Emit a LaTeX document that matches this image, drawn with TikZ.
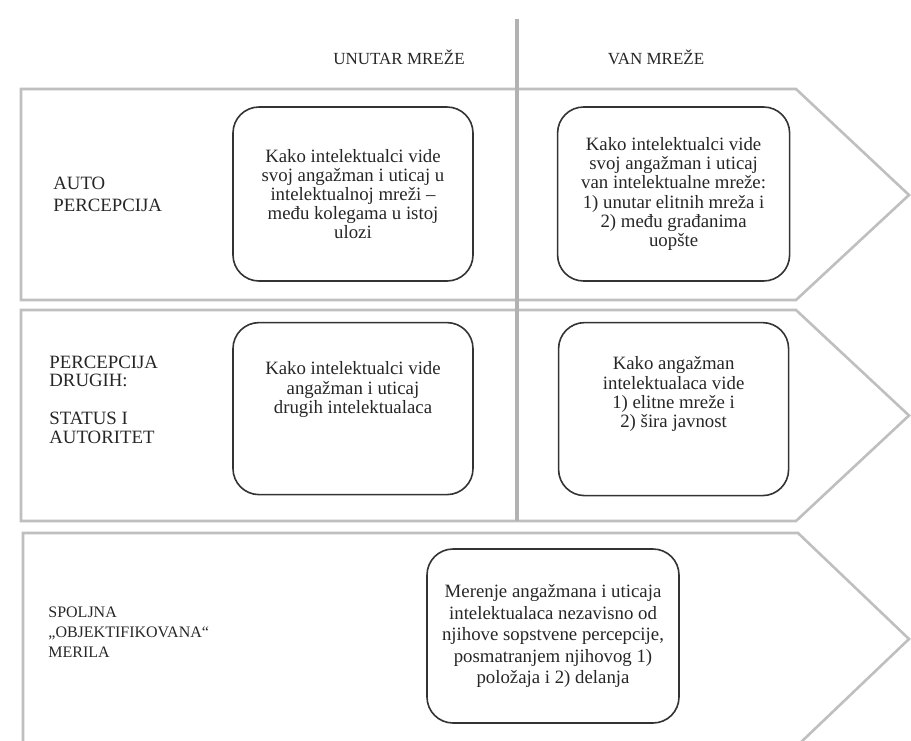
\documentclass[tikz,border=0pt]{standalone}
\usepackage{fontspec}
\setmainfont{Liberation Serif}
\usetikzlibrary{positioning}
\newcommand{\cellfont}{\fontsize{9.4pt}{9.6pt}\selectfont}
\tikzset{
        base/.style={align=center, inner sep=0pt, text=black!85},
        box/.style={base, draw=black!80, line width=0.8pt, rounded corners=13pt,
                    font=\cellfont},
        rowlabel/.style={align=left, anchor=west, inner sep=0pt, text=black!85},
        colhead/.style={base, font=\fontsize{8.5pt}{9pt}\selectfont},
        band/.style={draw=gray!50, line width=1.3pt, line join=miter},
        divider/.style={draw=gray!60, line width=1.8pt},
 }
\begin{document}
\begin{tikzpicture}[x=0.5pt, y=-0.5pt]
    \useasboundingbox (0,0) rectangle (911,740);
    \clip (0,0) rectangle (911,740);

    % the three arrow bands
    \draw[band] (21,89) -- (796,89) -- (909,195) -- (796,300) -- (21,300) -- cycle;
    \draw[band] (21,310) -- (796,310) -- (909,415.5) -- (796,521) -- (21,521) -- cycle;
    \draw[band] (23,533) -- (798,533) -- (909,639) -- (798,745) -- (23,745) -- cycle;

    \coordinate (divtop) at (517,19);
    \coordinate (divbot) at (517,521);
    \draw[divider] (divtop) -- (divbot);

    \node[colhead] (unutar) at (399,57) {UNUTAR MREŽE};
    \node[colhead] (van) at (656,57) {VAN MREŽE};

    \node[rowlabel, font=\fontsize{9.4pt}{11pt}\selectfont] (auto) at (53,194)
        {AUTO\\PERCEPCIJA};
    \node[rowlabel, font=\fontsize{9.4pt}{9.4pt}\selectfont] (drugi) at (49,399.5)
        {PERCEPCIJA\\DRUGIH:\\[9.4pt]STATUS I\\AUTORITET};
    \node[rowlabel, font=\fontsize{8pt}{10pt}\selectfont] (merila) at (48,632)
        {SPOLJNA\\„OBJEKTIFIKOVANA“\\MERILA};

    \node[box, minimum width=120pt, minimum height=87pt] (autoin) at (353,194)
        {Kako intelektualci vide\\svoj angažman i uticaj u\\intelektualnoj mreži --\\među kolegama u istoj\\ulozi};
    \node[box, minimum width=116pt, minimum height=87pt, right=41.5pt of autoin] (autoout)
        {Kako intelektualci vide\\svoj angažman i uticaj\\van intelektualne mreže:\\1) unutar elitnih mreža i\\2) među građanima\\uopšte};
    \node[box, minimum width=120pt, minimum height=86pt, text depth=21pt,
          below=20pt of autoin] (drugiin)
        {Kako intelektualci vide\\angažman i uticaj\\drugih intelektualaca};
    \node[box, minimum width=115pt, minimum height=86.5pt, text depth=17pt,
          below=20pt of autoout] (drugiout)
        {Kako angažman\\intelektualaca vide\\1) elitne mreže i\\2) šira javnost};
    \node[box, minimum width=126pt, minimum height=87pt,
          font=\fontsize{9.4pt}{10.75pt}\selectfont] (merenje) at (553,636)
        {Merenje angažmana i uticaja\\intelektualaca nezavisno od\\njihove sopstvene percepcije,\\posmatranjem njihovog 1)\\položaja i 2) delanja};
\end{tikzpicture}
\end{document}
